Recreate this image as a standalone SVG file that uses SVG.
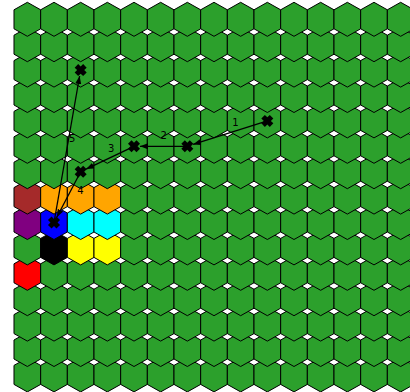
<svg xmlns="http://www.w3.org/2000/svg" width="410" height="392" viewBox="0 0 410 392">
<style>
use{stroke:#000;stroke-width:1;stroke-linejoin:miter}
.g{fill:#2ca02c}.br{fill:#a52a2a}.or{fill:#ffa500}.pu{fill:#800080}.bl{fill:#0000ff}.cy{fill:#00ffff}.bk{fill:#000}.ye{fill:#ffff00}.rd{fill:#ff0000}
.edge{stroke:#000;stroke-width:1.3;fill:none}
.mk{fill:#000}
.lbl{font-family:"DejaVu Sans",sans-serif;font-size:10px;fill:#000;text-anchor:middle}
</style>
<defs>
<polygon id="hx" points="0,-17 13.333,-9.5 13.333,9.5 0,17 -13.333,9.5 -13.333,-9.5"/>
<polygon id="xm" transform="rotate(45)" points="-2.5,-6 2.5,-6 2.5,-2.5 6,-2.5 6,2.5 2.5,2.5 2.5,6 -2.5,6 -2.5,2.5 -6,2.5 -6,-2.5 -2.5,-2.5"/>
<marker id="ah" markerUnits="userSpaceOnUse" markerWidth="9" markerHeight="7" refX="8" refY="3" orient="auto"><path d="M0,0 L8,3 L0,6 z" fill="#000"/></marker>
</defs>
<rect width="410" height="392" fill="#fff"/>
<g id="grid">
<g id="row14"><use href="#hx" class="g" x="27.33" y="374.9"/><use href="#hx" class="g" x="54" y="374.9"/><use href="#hx" class="g" x="80.67" y="374.9"/><use href="#hx" class="g" x="107.33" y="374.9"/><use href="#hx" class="g" x="134" y="374.9"/><use href="#hx" class="g" x="160.67" y="374.9"/><use href="#hx" class="g" x="187.33" y="374.9"/><use href="#hx" class="g" x="214" y="374.9"/><use href="#hx" class="g" x="240.67" y="374.9"/><use href="#hx" class="g" x="267.33" y="374.9"/><use href="#hx" class="g" x="294" y="374.9"/><use href="#hx" class="g" x="320.67" y="374.9"/><use href="#hx" class="g" x="347.33" y="374.9"/><use href="#hx" class="g" x="374" y="374.9"/><use href="#hx" class="g" x="400.67" y="374.9"/></g>
<g id="row13"><use href="#hx" class="g" x="27.33" y="349.5"/><use href="#hx" class="g" x="54" y="349.5"/><use href="#hx" class="g" x="80.67" y="349.5"/><use href="#hx" class="g" x="107.33" y="349.5"/><use href="#hx" class="g" x="134" y="349.5"/><use href="#hx" class="g" x="160.67" y="349.5"/><use href="#hx" class="g" x="187.33" y="349.5"/><use href="#hx" class="g" x="214" y="349.5"/><use href="#hx" class="g" x="240.67" y="349.5"/><use href="#hx" class="g" x="267.33" y="349.5"/><use href="#hx" class="g" x="294" y="349.5"/><use href="#hx" class="g" x="320.67" y="349.5"/><use href="#hx" class="g" x="347.33" y="349.5"/><use href="#hx" class="g" x="374" y="349.5"/><use href="#hx" class="g" x="400.67" y="349.5"/></g>
<g id="row12"><use href="#hx" class="g" x="27.33" y="324.1"/><use href="#hx" class="g" x="54" y="324.1"/><use href="#hx" class="g" x="80.67" y="324.1"/><use href="#hx" class="g" x="107.33" y="324.1"/><use href="#hx" class="g" x="134" y="324.1"/><use href="#hx" class="g" x="160.67" y="324.1"/><use href="#hx" class="g" x="187.33" y="324.1"/><use href="#hx" class="g" x="214" y="324.1"/><use href="#hx" class="g" x="240.67" y="324.1"/><use href="#hx" class="g" x="267.33" y="324.1"/><use href="#hx" class="g" x="294" y="324.1"/><use href="#hx" class="g" x="320.67" y="324.1"/><use href="#hx" class="g" x="347.33" y="324.1"/><use href="#hx" class="g" x="374" y="324.1"/><use href="#hx" class="g" x="400.67" y="324.1"/></g>
<g id="row11"><use href="#hx" class="g" x="27.33" y="298.7"/><use href="#hx" class="g" x="54" y="298.7"/><use href="#hx" class="g" x="80.67" y="298.7"/><use href="#hx" class="g" x="107.33" y="298.7"/><use href="#hx" class="g" x="134" y="298.7"/><use href="#hx" class="g" x="160.67" y="298.7"/><use href="#hx" class="g" x="187.33" y="298.7"/><use href="#hx" class="g" x="214" y="298.7"/><use href="#hx" class="g" x="240.67" y="298.7"/><use href="#hx" class="g" x="267.33" y="298.7"/><use href="#hx" class="g" x="294" y="298.7"/><use href="#hx" class="g" x="320.67" y="298.7"/><use href="#hx" class="g" x="347.33" y="298.7"/><use href="#hx" class="g" x="374" y="298.7"/><use href="#hx" class="g" x="400.67" y="298.7"/></g>
<g id="row10"><use id="cell-red" href="#hx" class="rd" x="27.33" y="273.3"/><use href="#hx" class="g" x="54" y="273.3"/><use href="#hx" class="g" x="80.67" y="273.3"/><use href="#hx" class="g" x="107.33" y="273.3"/><use href="#hx" class="g" x="134" y="273.3"/><use href="#hx" class="g" x="160.67" y="273.3"/><use href="#hx" class="g" x="187.33" y="273.3"/><use href="#hx" class="g" x="214" y="273.3"/><use href="#hx" class="g" x="240.67" y="273.3"/><use href="#hx" class="g" x="267.33" y="273.3"/><use href="#hx" class="g" x="294" y="273.3"/><use href="#hx" class="g" x="320.67" y="273.3"/><use href="#hx" class="g" x="347.33" y="273.3"/><use href="#hx" class="g" x="374" y="273.3"/><use href="#hx" class="g" x="400.67" y="273.3"/></g>
<g id="row9"><use href="#hx" class="g" x="27.33" y="247.9"/><use id="cell-black" href="#hx" class="bk" x="54" y="247.9"/><use id="cell-yellow1" href="#hx" class="ye" x="80.67" y="247.9"/><use id="cell-yellow2" href="#hx" class="ye" x="107.33" y="247.9"/><use href="#hx" class="g" x="134" y="247.9"/><use href="#hx" class="g" x="160.67" y="247.9"/><use href="#hx" class="g" x="187.33" y="247.9"/><use href="#hx" class="g" x="214" y="247.9"/><use href="#hx" class="g" x="240.67" y="247.9"/><use href="#hx" class="g" x="267.33" y="247.9"/><use href="#hx" class="g" x="294" y="247.9"/><use href="#hx" class="g" x="320.67" y="247.9"/><use href="#hx" class="g" x="347.33" y="247.9"/><use href="#hx" class="g" x="374" y="247.9"/><use href="#hx" class="g" x="400.67" y="247.9"/></g>
<g id="row8"><use id="cell-purple" href="#hx" class="pu" x="27.33" y="222.5"/><use id="cell-blue" href="#hx" class="bl" x="54" y="222.5"/><use id="cell-cyan1" href="#hx" class="cy" x="80.67" y="222.5"/><use id="cell-cyan2" href="#hx" class="cy" x="107.33" y="222.5"/><use href="#hx" class="g" x="134" y="222.5"/><use href="#hx" class="g" x="160.67" y="222.5"/><use href="#hx" class="g" x="187.33" y="222.5"/><use href="#hx" class="g" x="214" y="222.5"/><use href="#hx" class="g" x="240.67" y="222.5"/><use href="#hx" class="g" x="267.33" y="222.5"/><use href="#hx" class="g" x="294" y="222.5"/><use href="#hx" class="g" x="320.67" y="222.5"/><use href="#hx" class="g" x="347.33" y="222.5"/><use href="#hx" class="g" x="374" y="222.5"/><use href="#hx" class="g" x="400.67" y="222.5"/></g>
<g id="row7"><use id="cell-brown" href="#hx" class="br" x="27.33" y="197.1"/><use id="cell-orange1" href="#hx" class="or" x="54" y="197.1"/><use id="cell-orange2" href="#hx" class="or" x="80.67" y="197.1"/><use id="cell-orange3" href="#hx" class="or" x="107.33" y="197.1"/><use href="#hx" class="g" x="134" y="197.1"/><use href="#hx" class="g" x="160.67" y="197.1"/><use href="#hx" class="g" x="187.33" y="197.1"/><use href="#hx" class="g" x="214" y="197.1"/><use href="#hx" class="g" x="240.67" y="197.1"/><use href="#hx" class="g" x="267.33" y="197.1"/><use href="#hx" class="g" x="294" y="197.1"/><use href="#hx" class="g" x="320.67" y="197.1"/><use href="#hx" class="g" x="347.33" y="197.1"/><use href="#hx" class="g" x="374" y="197.1"/><use href="#hx" class="g" x="400.67" y="197.1"/></g>
<g id="row6"><use href="#hx" class="g" x="27.33" y="171.7"/><use href="#hx" class="g" x="54" y="171.7"/><use href="#hx" class="g" x="80.67" y="171.7"/><use href="#hx" class="g" x="107.33" y="171.7"/><use href="#hx" class="g" x="134" y="171.7"/><use href="#hx" class="g" x="160.67" y="171.7"/><use href="#hx" class="g" x="187.33" y="171.7"/><use href="#hx" class="g" x="214" y="171.7"/><use href="#hx" class="g" x="240.67" y="171.7"/><use href="#hx" class="g" x="267.33" y="171.7"/><use href="#hx" class="g" x="294" y="171.7"/><use href="#hx" class="g" x="320.67" y="171.7"/><use href="#hx" class="g" x="347.33" y="171.7"/><use href="#hx" class="g" x="374" y="171.7"/><use href="#hx" class="g" x="400.67" y="171.7"/></g>
<g id="row5"><use href="#hx" class="g" x="27.33" y="146.3"/><use href="#hx" class="g" x="54" y="146.3"/><use href="#hx" class="g" x="80.67" y="146.3"/><use href="#hx" class="g" x="107.33" y="146.3"/><use href="#hx" class="g" x="134" y="146.3"/><use href="#hx" class="g" x="160.67" y="146.3"/><use href="#hx" class="g" x="187.33" y="146.3"/><use href="#hx" class="g" x="214" y="146.3"/><use href="#hx" class="g" x="240.67" y="146.3"/><use href="#hx" class="g" x="267.33" y="146.3"/><use href="#hx" class="g" x="294" y="146.3"/><use href="#hx" class="g" x="320.67" y="146.3"/><use href="#hx" class="g" x="347.33" y="146.3"/><use href="#hx" class="g" x="374" y="146.3"/><use href="#hx" class="g" x="400.67" y="146.3"/></g>
<g id="row4"><use href="#hx" class="g" x="27.33" y="120.9"/><use href="#hx" class="g" x="54" y="120.9"/><use href="#hx" class="g" x="80.67" y="120.9"/><use href="#hx" class="g" x="107.33" y="120.9"/><use href="#hx" class="g" x="134" y="120.9"/><use href="#hx" class="g" x="160.67" y="120.9"/><use href="#hx" class="g" x="187.33" y="120.9"/><use href="#hx" class="g" x="214" y="120.9"/><use href="#hx" class="g" x="240.67" y="120.9"/><use href="#hx" class="g" x="267.33" y="120.9"/><use href="#hx" class="g" x="294" y="120.9"/><use href="#hx" class="g" x="320.67" y="120.9"/><use href="#hx" class="g" x="347.33" y="120.9"/><use href="#hx" class="g" x="374" y="120.9"/><use href="#hx" class="g" x="400.67" y="120.9"/></g>
<g id="row3"><use href="#hx" class="g" x="27.33" y="95.5"/><use href="#hx" class="g" x="54" y="95.5"/><use href="#hx" class="g" x="80.67" y="95.5"/><use href="#hx" class="g" x="107.33" y="95.5"/><use href="#hx" class="g" x="134" y="95.5"/><use href="#hx" class="g" x="160.67" y="95.5"/><use href="#hx" class="g" x="187.33" y="95.5"/><use href="#hx" class="g" x="214" y="95.5"/><use href="#hx" class="g" x="240.67" y="95.5"/><use href="#hx" class="g" x="267.33" y="95.5"/><use href="#hx" class="g" x="294" y="95.5"/><use href="#hx" class="g" x="320.67" y="95.5"/><use href="#hx" class="g" x="347.33" y="95.5"/><use href="#hx" class="g" x="374" y="95.5"/><use href="#hx" class="g" x="400.67" y="95.5"/></g>
<g id="row2"><use href="#hx" class="g" x="27.33" y="70.1"/><use href="#hx" class="g" x="54" y="70.1"/><use href="#hx" class="g" x="80.67" y="70.1"/><use href="#hx" class="g" x="107.33" y="70.1"/><use href="#hx" class="g" x="134" y="70.1"/><use href="#hx" class="g" x="160.67" y="70.1"/><use href="#hx" class="g" x="187.33" y="70.1"/><use href="#hx" class="g" x="214" y="70.1"/><use href="#hx" class="g" x="240.67" y="70.1"/><use href="#hx" class="g" x="267.33" y="70.1"/><use href="#hx" class="g" x="294" y="70.1"/><use href="#hx" class="g" x="320.67" y="70.1"/><use href="#hx" class="g" x="347.33" y="70.1"/><use href="#hx" class="g" x="374" y="70.1"/><use href="#hx" class="g" x="400.67" y="70.1"/></g>
<g id="row1"><use href="#hx" class="g" x="27.33" y="44.7"/><use href="#hx" class="g" x="54" y="44.7"/><use href="#hx" class="g" x="80.67" y="44.7"/><use href="#hx" class="g" x="107.33" y="44.7"/><use href="#hx" class="g" x="134" y="44.7"/><use href="#hx" class="g" x="160.67" y="44.7"/><use href="#hx" class="g" x="187.33" y="44.7"/><use href="#hx" class="g" x="214" y="44.7"/><use href="#hx" class="g" x="240.67" y="44.7"/><use href="#hx" class="g" x="267.33" y="44.7"/><use href="#hx" class="g" x="294" y="44.7"/><use href="#hx" class="g" x="320.67" y="44.7"/><use href="#hx" class="g" x="347.33" y="44.7"/><use href="#hx" class="g" x="374" y="44.7"/><use href="#hx" class="g" x="400.67" y="44.7"/></g>
<g id="row0"><use href="#hx" class="g" x="27.33" y="19.3"/><use href="#hx" class="g" x="54" y="19.3"/><use href="#hx" class="g" x="80.67" y="19.3"/><use href="#hx" class="g" x="107.33" y="19.3"/><use href="#hx" class="g" x="134" y="19.3"/><use href="#hx" class="g" x="160.67" y="19.3"/><use href="#hx" class="g" x="187.33" y="19.3"/><use href="#hx" class="g" x="214" y="19.3"/><use href="#hx" class="g" x="240.67" y="19.3"/><use href="#hx" class="g" x="267.33" y="19.3"/><use href="#hx" class="g" x="294" y="19.3"/><use href="#hx" class="g" x="320.67" y="19.3"/><use href="#hx" class="g" x="347.33" y="19.3"/><use href="#hx" class="g" x="374" y="19.3"/><use href="#hx" class="g" x="400.67" y="19.3"/></g>
</g>
<g id="connectors">
<line class="edge" x1="267.33" y1="120.9" x2="193.05" y2="144.48" marker-end="url(#ah)"/>
<line class="edge" x1="187.33" y1="146.3" x2="140" y2="146.3" marker-end="url(#ah)"/>
<line class="edge" x1="134" y1="146.3" x2="86.09" y2="169.12" marker-end="url(#ah)"/>
<line class="edge" x1="80.67" y1="171.7" x2="56.79" y2="217.19" marker-end="url(#ah)"/>
<line class="edge" x1="54" y1="222.5" x2="79.64" y2="76.01" marker-end="url(#ah)"/>
<text class="lbl" x="235.5" y="126">1</text>
<text class="lbl" x="163.7" y="139">2</text>
<text class="lbl" x="111.2" y="151.7">3</text>
<text class="lbl" x="80.5" y="194">4</text>
<text class="lbl" x="72.2" y="141.7">5</text>
</g>
<g id="p1"><use href="#xm" class="mk" x="267.33" y="120.9" style="stroke:none"/></g>
<g id="p2"><use href="#xm" class="mk" x="187.33" y="146.3" style="stroke:none"/></g>
<g id="p3"><use href="#xm" class="mk" x="134" y="146.3" style="stroke:none"/></g>
<g id="p4"><use href="#xm" class="mk" x="80.67" y="171.7" style="stroke:none"/></g>
<g id="p5"><use href="#xm" class="mk" x="54" y="222.5" style="stroke:none"/></g>
<g id="p6"><use href="#xm" class="mk" x="80.67" y="70.1" style="stroke:none"/></g>
</svg>
